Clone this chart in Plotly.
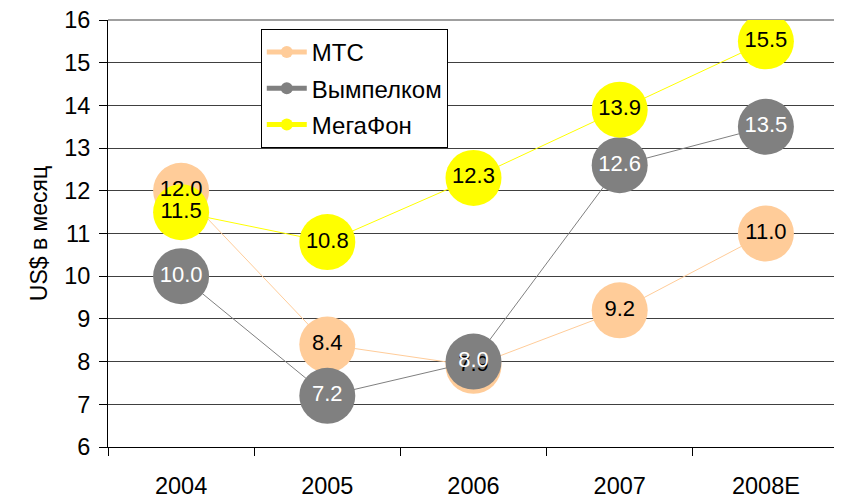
import plotly.graph_objects as go

years = ["2004", "2005", "2006", "2007", "2008E"]
mts = [12.0, 8.4, 7.9, 9.2, 11.0]
beeline = [10.0, 7.2, 8.0, 12.6, 13.5]
megafon = [11.5, 10.8, 12.3, 13.9, 15.5]

series = [
    ("МТС", mts, "#FFCC99", "black"),
    ("Вымпелком", beeline, "#808080", "white"),
    ("МегаФон", megafon, "#FFFF00", "black"),
]

fig = go.Figure()
for i, (name, vals, col, tcol) in enumerate(series):
    fig.add_trace(go.Scatter(
        x=years, y=vals, name=name, mode="lines+markers",
        line=dict(color=col, width=1),
        marker=dict(color=col, size=56, line=dict(width=0)),
        legendgroup=f"g{i}",
    ))
# data labels drawn above all markers
for i, (name, vals, col, tcol) in enumerate(series):
    fig.add_trace(go.Scatter(
        x=years, y=vals, name=name, mode="text", showlegend=False,
        text=[f"{v:.1f}" for v in vals], textposition="middle center",
        textfont=dict(family="Liberation Sans, Arial", size=22, color=tcol),
        legendgroup=f"g{i}", hoverinfo="skip",
    ))

fig.update_layout(
    width=834, height=491,
    margin=dict(l=100, r=3, t=12, b=52),
    paper_bgcolor="white", plot_bgcolor="white",
    font=dict(family="Liberation Sans, Arial", size=23, color="black"),
    showlegend=True,
    legend=dict(
        x=0.209, y=0.979, xanchor="left", yanchor="top",
        bgcolor="white", bordercolor="black", borderwidth=1,
        font=dict(size=24), itemsizing="constant", itemwidth=40,
        tracegroupgap=2,
    ),
    xaxis=dict(
        type="category", range=[-0.5, 4.5], tickson="boundaries",
        ticks="outside", ticklen=8, tickcolor="black",
        showline=True, linecolor="black", linewidth=1,
        showgrid=False, tickfont=dict(size=23.5), ticklabelstandoff=18,
        automargin=False,
    ),
    yaxis=dict(
        range=[6, 16], dtick=1, ticks="outside", ticklen=8, tickcolor="black",
        showline=True, linecolor="black", linewidth=1, mirror=False,
        showgrid=True, gridcolor="#404040", gridwidth=1, zeroline=False,
        tickfont=dict(size=23.5), ticklabeloverflow="allow", ticklabelstandoff=4,
        title=dict(text="US$ в месяц", font=dict(size=23), standoff=10),
        automargin=False,
    ),
    shapes=[
        dict(type="line", xref="paper", yref="paper", x0=1, x1=1, y0=0, y1=1,
             line=dict(color="#808080", width=1)),
        dict(type="line", xref="paper", yref="paper", x0=0, x1=1, y0=1, y1=1,
             line=dict(color="#404040", width=1), layer="below"),
    ],
)

fig.write_html("out.html")
